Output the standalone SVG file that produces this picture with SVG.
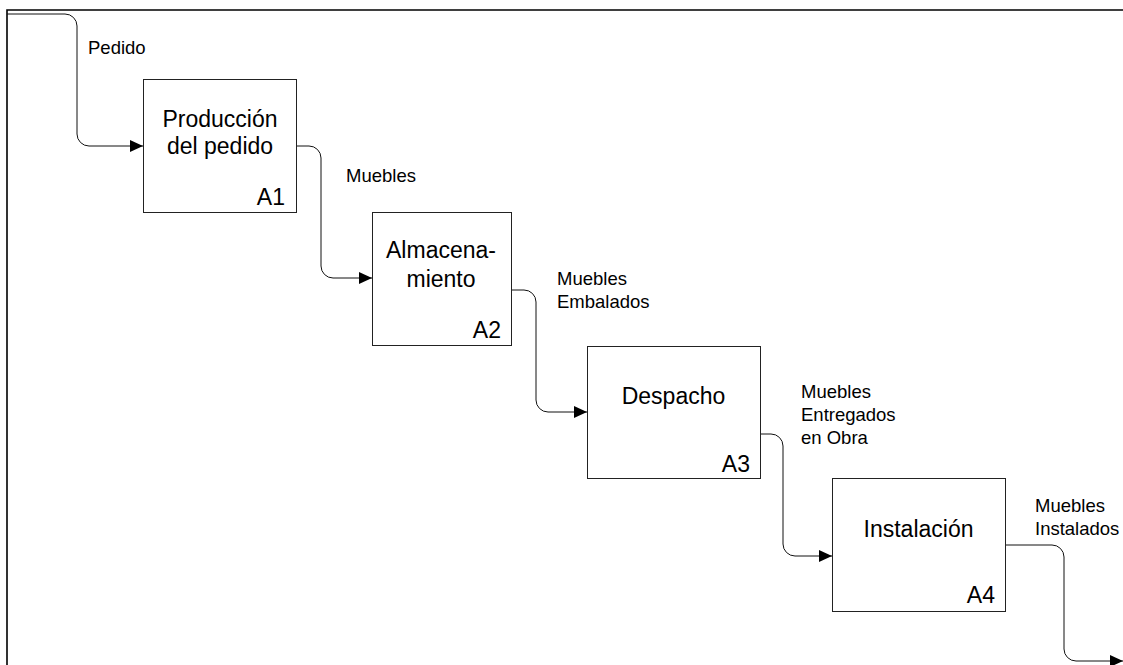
<svg xmlns="http://www.w3.org/2000/svg" width="1123" height="665" viewBox="0 0 1123 665">
  <style>
    .frame { fill: none; stroke: #000; stroke-width: 1.6; }
    .box { fill: #fff; stroke: #222; stroke-width: 1; }
    .flow { fill: none; stroke: #111; stroke-width: 1; }
    .title { font-family: "Liberation Sans", Arial, sans-serif; font-size: 23px; fill: #000; text-anchor: middle; }
    .code { font-family: "Liberation Sans", Arial, sans-serif; font-size: 23px; fill: #000; text-anchor: end; }
    .lbl { font-family: "Liberation Sans", Arial, sans-serif; font-size: 18.5px; fill: #000; }
  </style>
  <defs>
    <marker id="arrow" markerUnits="userSpaceOnUse" markerWidth="13" markerHeight="12" refX="13" refY="6" orient="auto">
      <path d="M0,0 L13,6 L0,12 z" fill="#000"/>
    </marker>
  </defs>

  <rect width="1123" height="665" fill="#fff"/>
  <!-- outer frame -->
  <path class="frame" d="M7,680 V10 H1130"/>

  <!-- flows between activities -->
  <g id="connectors">
    <path class="flow" marker-end="url(#arrow)" d="M7,14 H65 A12,12 0 0 1 77,26 V134 A12,12 0 0 0 89,146 H143"/>
    <path class="flow" marker-end="url(#arrow)" d="M296,146 H309 A12,12 0 0 1 321,158 V266 A12,12 0 0 0 333,278 H372"/>
    <path class="flow" marker-end="url(#arrow)" d="M511,290 H524 A12,12 0 0 1 536,302 V400 A12,12 0 0 0 548,412 H587"/>
    <path class="flow" marker-end="url(#arrow)" d="M760,434 H771 A12,12 0 0 1 783,446 V544 A12,12 0 0 0 795,556 H832"/>
    <path class="flow" marker-end="url(#arrow)" d="M1005,545 H1052 A12,12 0 0 1 1064,557 V649 A12,12 0 0 0 1076,661 H1123"/>
    <text class="lbl" x="88" y="54">Pedido</text>
    <text class="lbl" x="346" y="182">Muebles</text>
    <text class="lbl" x="557" y="285">Muebles</text>
    <text class="lbl" x="557" y="308">Embalados</text>
    <text class="lbl" x="801" y="398">Muebles</text>
    <text class="lbl" x="801" y="421">Entregados</text>
    <text class="lbl" x="801" y="444">en Obra</text>
    <text class="lbl" x="1035" y="512">Muebles</text>
    <text class="lbl" x="1035" y="535">Instalados</text>
  </g>

  <g id="A1">
    <rect class="box" x="143.5" y="79.5" width="153" height="133"/>
    <text class="title" x="220" y="127">Producción</text>
    <text class="title" x="220" y="154">del pedido</text>
    <text class="code" x="285" y="205">A1</text>
  </g>

  <g id="A2">
    <rect class="box" x="372.5" y="212.5" width="139" height="133"/>
    <text class="title" x="441" y="258">Almacena-</text>
    <text class="title" x="441" y="287">miento</text>
    <text class="code" x="501" y="338">A2</text>
  </g>

  <g id="A3">
    <rect class="box" x="587.5" y="346.5" width="173" height="132"/>
    <text class="title" x="673.5" y="404">Despacho</text>
    <text class="code" x="750" y="472">A3</text>
  </g>

  <g id="A4">
    <rect class="box" x="832.5" y="478.5" width="173" height="133"/>
    <text class="title" x="918.5" y="537">Instalación</text>
    <text class="code" x="995" y="603">A4</text>
  </g>
</svg>
